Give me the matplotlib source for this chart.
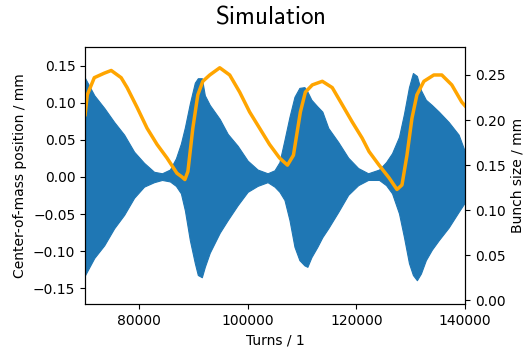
import numpy as np
from matplotlib import pyplot as plt

# envelope of the center-of-mass oscillation
turns_env = [70000, 71690, 73520, 75360, 77190, 79030, 80860, 82700, 84170, 85630,
             86730, 87650, 88390, 89300, 90220, 90770, 91510, 92060, 92970, 94810,
             96280, 98110, 99950, 101780, 103620, 104900, 105820, 106740, 107660, 108580,
             109490, 110410, 110960, 111700, 112800, 113720, 114810, 116650, 118480, 120320,
             122150, 124170, 125460, 126560, 127840, 128760, 129680, 130410, 131140, 131880,
             132790, 133890, 135180, 137000, 138830, 140000]
com_upper = [0.133, 0.110, 0.093, 0.074, 0.057, 0.034, 0.019, 0.007, 0.005, 0.010,
             0.025, 0.045, 0.067, 0.099, 0.127, 0.133, 0.133, 0.110, 0.097, 0.078,
             0.058, 0.042, 0.022, 0.010, 0.005, 0.009, 0.020, 0.050, 0.081, 0.108,
             0.120, 0.121, 0.115, 0.104, 0.095, 0.088, 0.066, 0.047, 0.026, 0.012,
             0.005, 0.010, 0.020, 0.032, 0.054, 0.085, 0.121, 0.140, 0.136, 0.117,
             0.104, 0.097, 0.088, 0.074, 0.057, 0.034]
com_lower = [-0.132, -0.109, -0.092, -0.069, -0.051, -0.028, -0.013, -0.007, -0.004, -0.006,
             -0.012, -0.022, -0.045, -0.085, -0.116, -0.132, -0.135, -0.121, -0.102, -0.075,
             -0.058, -0.038, -0.020, -0.012, -0.007, -0.013, -0.020, -0.031, -0.058, -0.094,
             -0.112, -0.119, -0.121, -0.108, -0.094, -0.081, -0.069, -0.047, -0.024, -0.011,
             -0.004, -0.004, -0.011, -0.022, -0.049, -0.081, -0.116, -0.132, -0.139, -0.130,
             -0.112, -0.098, -0.085, -0.068, -0.047, -0.034]

# bunch size
turns_bs = [70000, 70400, 71690, 73520, 74810, 76640, 77740, 79580, 81410, 83250,
            85080, 86920, 87830, 88390, 88940, 89850, 90770, 91690, 92970, 94810,
            96640, 98480, 100310, 102150, 103980, 105820, 107290, 108390, 109670, 110590,
            111870, 113710, 115540, 117380, 119210, 121050, 122330, 124170, 126000, 127470,
            128390, 129310, 130230, 131140, 132430, 134260, 135730, 137570, 139400, 140130]
bunch_size = [0.206, 0.228, 0.247, 0.252, 0.255, 0.247, 0.236, 0.214, 0.191, 0.173,
              0.158, 0.141, 0.137, 0.134, 0.143, 0.191, 0.228, 0.243, 0.250, 0.258,
              0.250, 0.231, 0.209, 0.191, 0.173, 0.158, 0.150, 0.161, 0.209, 0.231,
              0.239, 0.243, 0.236, 0.217, 0.198, 0.180, 0.165, 0.150, 0.136, 0.123,
              0.128, 0.161, 0.202, 0.228, 0.243, 0.250, 0.250, 0.239, 0.220, 0.215]

plt.rcParams['mathtext.fontset'] = 'cm'

fig = plt.figure(figsize=(5.32, 3.51), dpi=100)
ax = fig.add_axes([0.16, 0.134, 0.714, 0.732])
ax.fill_between(turns_env, com_lower, com_upper, color='#1f77b4', lw=0.8, edgecolor='#1f77b4')
ax.set_xlim(70000, 140000)
ax.set_ylim(-0.171, 0.175)
ax.set_xticks([80000, 100000, 120000, 140000])
ax.set_xlabel("Turns / 1")
ax.set_ylabel("Center-of-mass position / mm")

ax2 = ax.twinx()
ax2.plot(turns_bs, bunch_size, color='orange', lw=2.5)
ax2.set_ylim(-0.004, 0.281)
ax2.set_ylabel("Bunch size / mm")

fig.suptitle(r"$\mathsf{Simulation}$", fontsize=18, x=0.508, y=0.988)

plt.savefig("out.png", dpi=100)
